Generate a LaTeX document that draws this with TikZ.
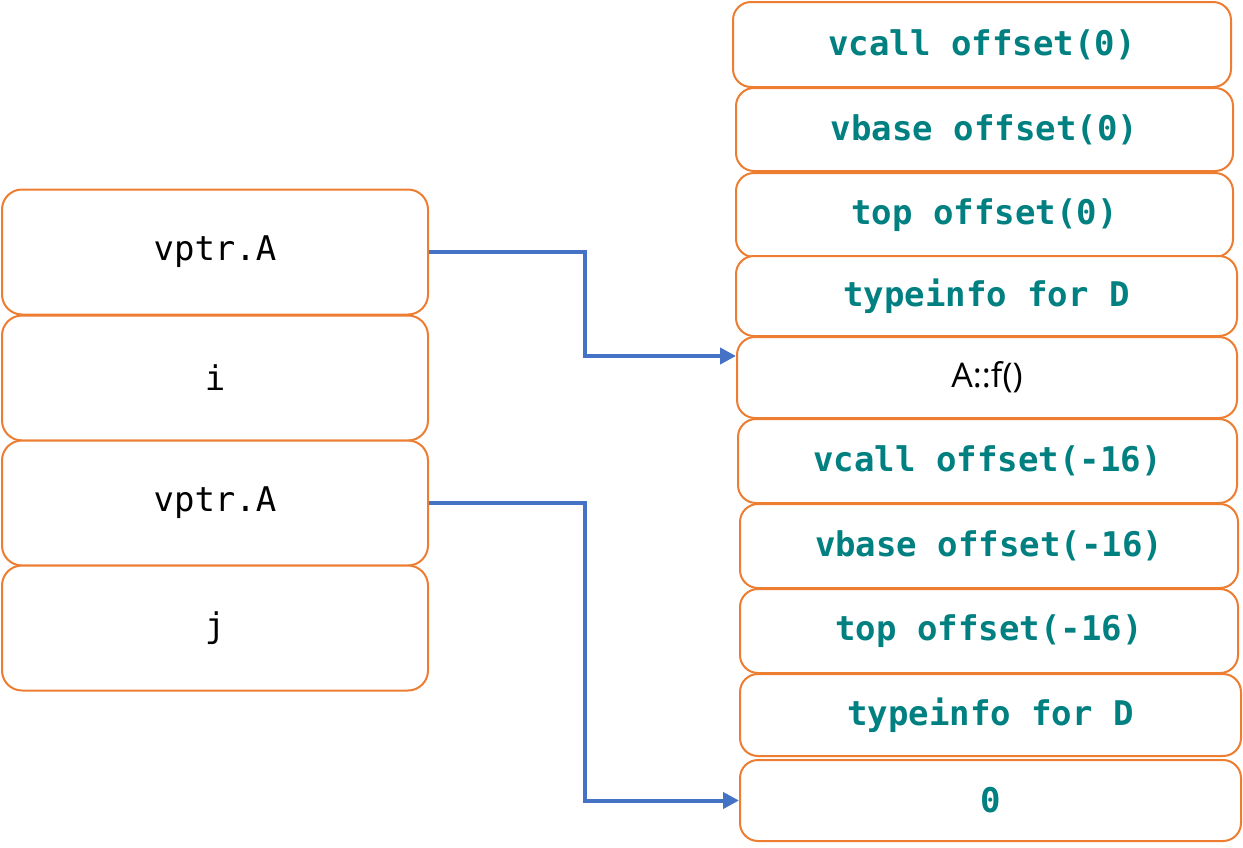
\documentclass[tikz,border=0pt]{standalone}
\usepackage{fontspec}
\setmonofont{DejaVu Sans Mono}
\setsansfont{Open Sans}
\usetikzlibrary{arrows.meta}

\definecolor{boxorange}{RGB}{237,125,49}
\definecolor{linkblue}{RGB}{68,114,196}
\definecolor{slotteal}{RGB}{0,128,128}

\tikzset{
  cell/.style={draw=boxorange, line width=2pt, rounded corners=20pt, fill=white,
    minimum width=426pt, minimum height=125pt, inner sep=0pt,
    font=\ttfamily\fontsize{34}{40}\selectfont},
  slot/.style={draw=boxorange, line width=2pt, rounded corners=18pt, fill=white,
    minimum height=83pt, inner sep=0pt, text=slotteal,
    font=\ttfamily\bfseries\fontsize{34}{40}\selectfont},
  link/.style={draw=linkblue, line width=4pt, -{Triangle[length=16pt,width=16pt]}}
}

\begin{document}
\begin{tikzpicture}[x=1pt,y=-1pt]
	\useasboundingbox (0,0) rectangle (1243,847);
	% object layout
	\node[cell] (va1) at (215,252) {vptr.A};
	\node[cell] (vi)  at (215,378) {i};
	\node[cell] (va2) at (215,503) {vptr.A};
	\node[cell] (vj)  at (215,628) {j};
	% vtable
	\node[slot, minimum width=498pt, minimum height=85pt] (vc0) at (982,44.5) {vcall offset(0)};
	\node[slot, minimum width=497pt] (vb0) at (984.5,129.5) {vbase offset(0)};
	\node[slot, minimum width=497pt, minimum height=84pt] (to0) at (984.5,215) {top offset(0)};
	\node[slot, minimum width=501pt, minimum height=80pt] (ti0) at (986.5,296) {typeinfo for D};
	\node[slot, minimum width=500pt, minimum height=81pt, text=black,
	  font=\sffamily\fontsize{34}{40}\selectfont] (fA) at (987,377.5) {A::f()};
	\node[slot, minimum width=499pt, minimum height=84pt] (vc1) at (987.5,461) {vcall offset(-16)};
	\node[slot, minimum width=498pt, minimum height=84pt] (vb1) at (989,546) {vbase offset(-16)};
	\node[slot, minimum width=498pt, minimum height=84pt] (to1) at (989,631) {top offset(-16)};
	\node[slot, minimum width=501pt, minimum height=82pt] (ti1) at (990.5,715) {typeinfo for D};
	\node[slot, minimum width=501pt, minimum height=81pt] (z1) at (990.5,800.5) {0};
	% pointers
	\draw[link] (va1.east) -- ++(156,0) |- ([yshift=21.5pt]fA.west);
	\draw[link] (va2.east) -- ++(156,0) |- (z1.west);
\end{tikzpicture}
\end{document}
